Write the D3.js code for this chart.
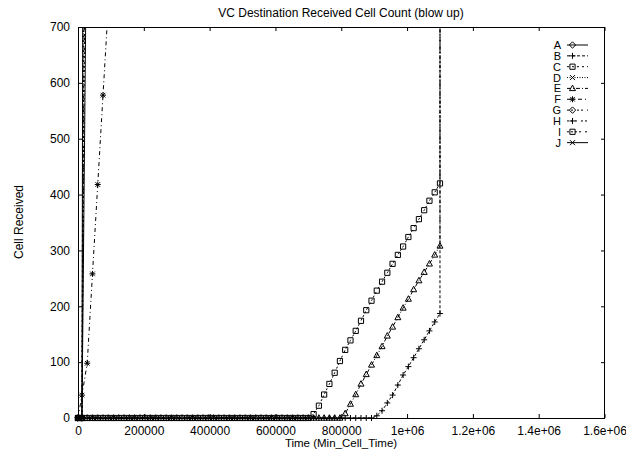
<!DOCTYPE html>
<html>
<head>
<meta charset="utf-8">
<script src="https://cdn.jsdelivr.net/npm/d3@7"></script>
<style>
body { margin: 0; background: #fff; }
svg { display: block; font-family: "Liberation Sans", Arial, Helvetica, sans-serif; }
.axis path, .axis line { stroke: #000; }
.axis text { font-size: 12px; fill: #000; }
</style>
</head>
<body>
<svg width="626" height="450"></svg>
<script>
// sample times (Min_Cell_Time)
var times = [0, 12000, 28000, 44000, 60000, 76000, 92000, 108000, 124000, 140000,
	156000, 172000, 188000, 204000, 220000, 236000, 252000, 268000, 284000, 300000,
	316000, 332000, 348000, 364000, 380000, 396000, 412000, 428000, 444000, 460000,
	476000, 492000, 508000, 524000, 540000, 556000, 572000, 588000, 604000, 620000,
	636000, 652000, 668000, 684000, 700000, 716000, 732000, 748000, 764000, 780000,
	796000, 812000, 828000, 844000, 860000, 876000, 892000, 908000, 924000, 940000,
	956000, 972000, 988000, 1004000, 1020000, 1036000, 1052000, 1068000, 1084000, 1100000,
	1116000];

var names = ["A", "B", "C", "D", "E", "F", "G", "H", "I", "J"];

var valA = [0, 0, 5000];
var valB = [0, 0, 0, 0, 0, 0, 0, 0, 0, 0,
	0, 0, 0, 0, 0, 0, 0, 0, 0, 0,
	0, 0, 0, 0, 0, 0, 0, 0, 0, 0,
	0, 0, 0, 0, 0, 0, 0, 0, 0, 0,
	0, 0, 0, 0, 0, 0, 0, 0, 0, 0,
	0, 0, 0, 0, 0, 0, 0, 4, 13, 27,
	41, 59, 77, 92, 108, 124, 140, 156, 172, 187,
	60000];
var valC = [0, 0, 3500];
var valD = [0, 0, 2500];
var valE = [0, 0, 0, 0, 0, 0, 0, 0, 0, 0,
	0, 0, 0, 0, 0, 0, 0, 0, 0, 0,
	0, 0, 0, 0, 0, 0, 0, 0, 0, 0,
	0, 0, 0, 0, 0, 0, 0, 0, 0, 0,
	0, 0, 0, 0, 0, 0, 0, 0, 0, 0,
	0, 8, 25, 42, 61, 78, 95, 112, 128, 147,
	163, 180, 197, 213, 230, 246, 261, 276, 292, 308,
	60000];
var valF = [0, 41, 98, 258, 418, 578, 738];
var valG = [0, 0, 1800];
var valH = [0, 0, 1400];
var valI = [0, 0, 0, 0, 0, 0, 0, 0, 0, 0,
	0, 0, 0, 0, 0, 0, 0, 0, 0, 0,
	0, 0, 0, 0, 0, 0, 0, 0, 0, 0,
	0, 0, 0, 0, 0, 0, 0, 0, 0, 0,
	0, 0, 0, 0, 0, 7, 22, 42, 61, 81,
	102, 122, 139, 156, 174, 193, 210, 228, 244, 260,
	276, 292, 307, 324, 340, 356, 372, 389, 404, 420,
	60000];
var valJ = [0, 0, 1000];

var xTicks = [0, 200000, 400000, 600000, 800000, 1000000, 1200000, 1400000, 1600000];
var xTickLabels = ["0", "200000", "400000", "600000", "800000", "1e+06", "1.2e+06", "1.4e+06", "1.6e+06"];
var yTicks = [0, 100, 200, 300, 400, 500, 600, 700];

var series = [valA, valB, valC, valD, valE, valF, valG, valH, valI, valJ];

// gnuplot postscript line types / point types
var dashes = [null, "3,2", "2,3", "1,1.5", "4,2,1,2", "4,3,1,3", "2,2,2,4", "2,2,2,2,2,4", "2,2,2,2,2,2,2,4", null];
var marks = ["diamond", "plus", "box", "cross", "triangle", "star", "diamond", "plus", "box", "cross"];

var L = 78, R = 605, T = 27, B = 418;

var svg = d3.select("svg");

var x = d3.scaleLinear().domain([0, 1600000]).range([L, R - 0.5]);
var y = d3.scaleLinear().domain([0, 700]).range([B, T]);

function markPath(k) {
	if(k == "diamond") return "M0,-3.2L3.2,0L0,3.2L-3.2,0Z";
	if(k == "plus") return "M-3,0H3M0,-3V3";
	if(k == "box") return "M-2.6,-2.6H2.6V2.6H-2.6Z";
	if(k == "cross") return "M-2.5,-2.5L2.5,2.5M-2.5,2.5L2.5,-2.5";
	if(k == "triangle") return "M0,-3.3L3,2.2L-3,2.2Z";
	if(k == "star") return "M-3,0H3M0,-3V3M-2.3,-2.3L2.3,2.3M-2.3,2.3L2.3,-2.3";
	return "";
}

svg.append("defs").append("clipPath").attr("id", "area")
	.append("rect")
	.attr("x", L).attr("y", T)
	.attr("width", R - L).attr("height", B - T);

// axes, ticks inward and mirrored
var xAxis = d3.axisBottom(x).tickValues(xTicks)
	.tickFormat(function(d, i) { return xTickLabels[i]; })
	.tickSizeInner(-4).tickSizeOuter(0).tickPadding(8);
var xTop = d3.axisTop(x).tickValues(xTicks).tickFormat("")
	.tickSizeInner(-4).tickSizeOuter(0);
var yAxis = d3.axisLeft(y).tickValues(yTicks)
	.tickSizeInner(-4).tickSizeOuter(0).tickPadding(8);
var yRight = d3.axisRight(y).tickValues(yTicks).tickFormat("")
	.tickSizeInner(-4).tickSizeOuter(0);

svg.append("g").attr("class", "axis")
	.attr("transform", "translate(0," + B + ")").call(xAxis);
svg.append("g").attr("class", "axis")
	.attr("transform", "translate(0," + T + ")").call(xTop);
svg.append("g").attr("class", "axis")
	.attr("transform", "translate(" + L + ",0)").call(yAxis);
svg.append("g").attr("class", "axis")
	.attr("transform", "translate(" + R + ",0)").call(yRight);

svg.selectAll(".axis .domain").remove();
svg.append("rect")
	.attr("x", L + 0.5).attr("y", T + 0.5)
	.attr("width", R - L - 1).attr("height", B - T)
	.attr("fill", "none").attr("stroke", "#000");

// data lines
var line = d3.line()
	.x(function(d) { return x(d[0]); })
	.y(function(d) { return y(d[1]); });

var plotG = svg.append("g");
var lines = plotG.append("g").attr("clip-path", "url(#area)");
var points = plotG.append("g");

series.forEach(function(vals, i) {
	var pts = vals.map(function(v, j) { return [times[j], v]; });
	lines.append("path")
		.datum(pts)
		.attr("d", line)
		.attr("fill", "none")
		.attr("stroke", "#000")
		.attr("stroke-width", 1)
		.attr("stroke-dasharray", dashes[i]);
	points.selectAll(null)
		.data(pts.filter(function(d) { return d[1] >= 0 && d[1] <= 700; }))
		.enter()
		.append("path")
		.attr("transform", function(d) { return "translate(" + x(d[0]) + "," + y(d[1]) + ")"; })
		.attr("d", markPath(marks[i]))
		.attr("fill", "none")
		.attr("stroke", "#000")
		.attr("stroke-width", 1);
});

// key
var key = svg.append("g").attr("font-size", "11px");
names.forEach(function(n, i) {
	var ky = 45 + i * 10.85;
	key.append("text")
		.attr("x", 561).attr("y", ky)
		.attr("dy", "0.36em")
		.attr("text-anchor", "end")
		.text(n);
	key.append("line")
		.attr("x1", 567).attr("x2", 588)
		.attr("y1", ky).attr("y2", ky)
		.attr("stroke", "#000")
		.attr("stroke-dasharray", dashes[i]);
	key.append("path")
		.attr("transform", "translate(572.5," + ky + ")")
		.attr("d", markPath(marks[i]))
		.attr("fill", "none")
		.attr("stroke", "#000");
});

// titles
svg.append("text")
	.attr("x", 341).attr("y", 17)
	.attr("text-anchor", "middle")
	.attr("font-size", "12px")
	.text("VC Destination Received Cell Count (blow up)");

svg.append("text")
	.attr("x", 341).attr("y", 447)
	.attr("text-anchor", "middle")
	.attr("font-size", "11.5px")
	.text("Time (Min_Cell_Time)");

svg.append("text")
	.attr("transform", "translate(23,222) rotate(-90)")
	.attr("text-anchor", "middle")
	.attr("font-size", "12px")
	.text("Cell Received");
</script>
</body>
</html>
